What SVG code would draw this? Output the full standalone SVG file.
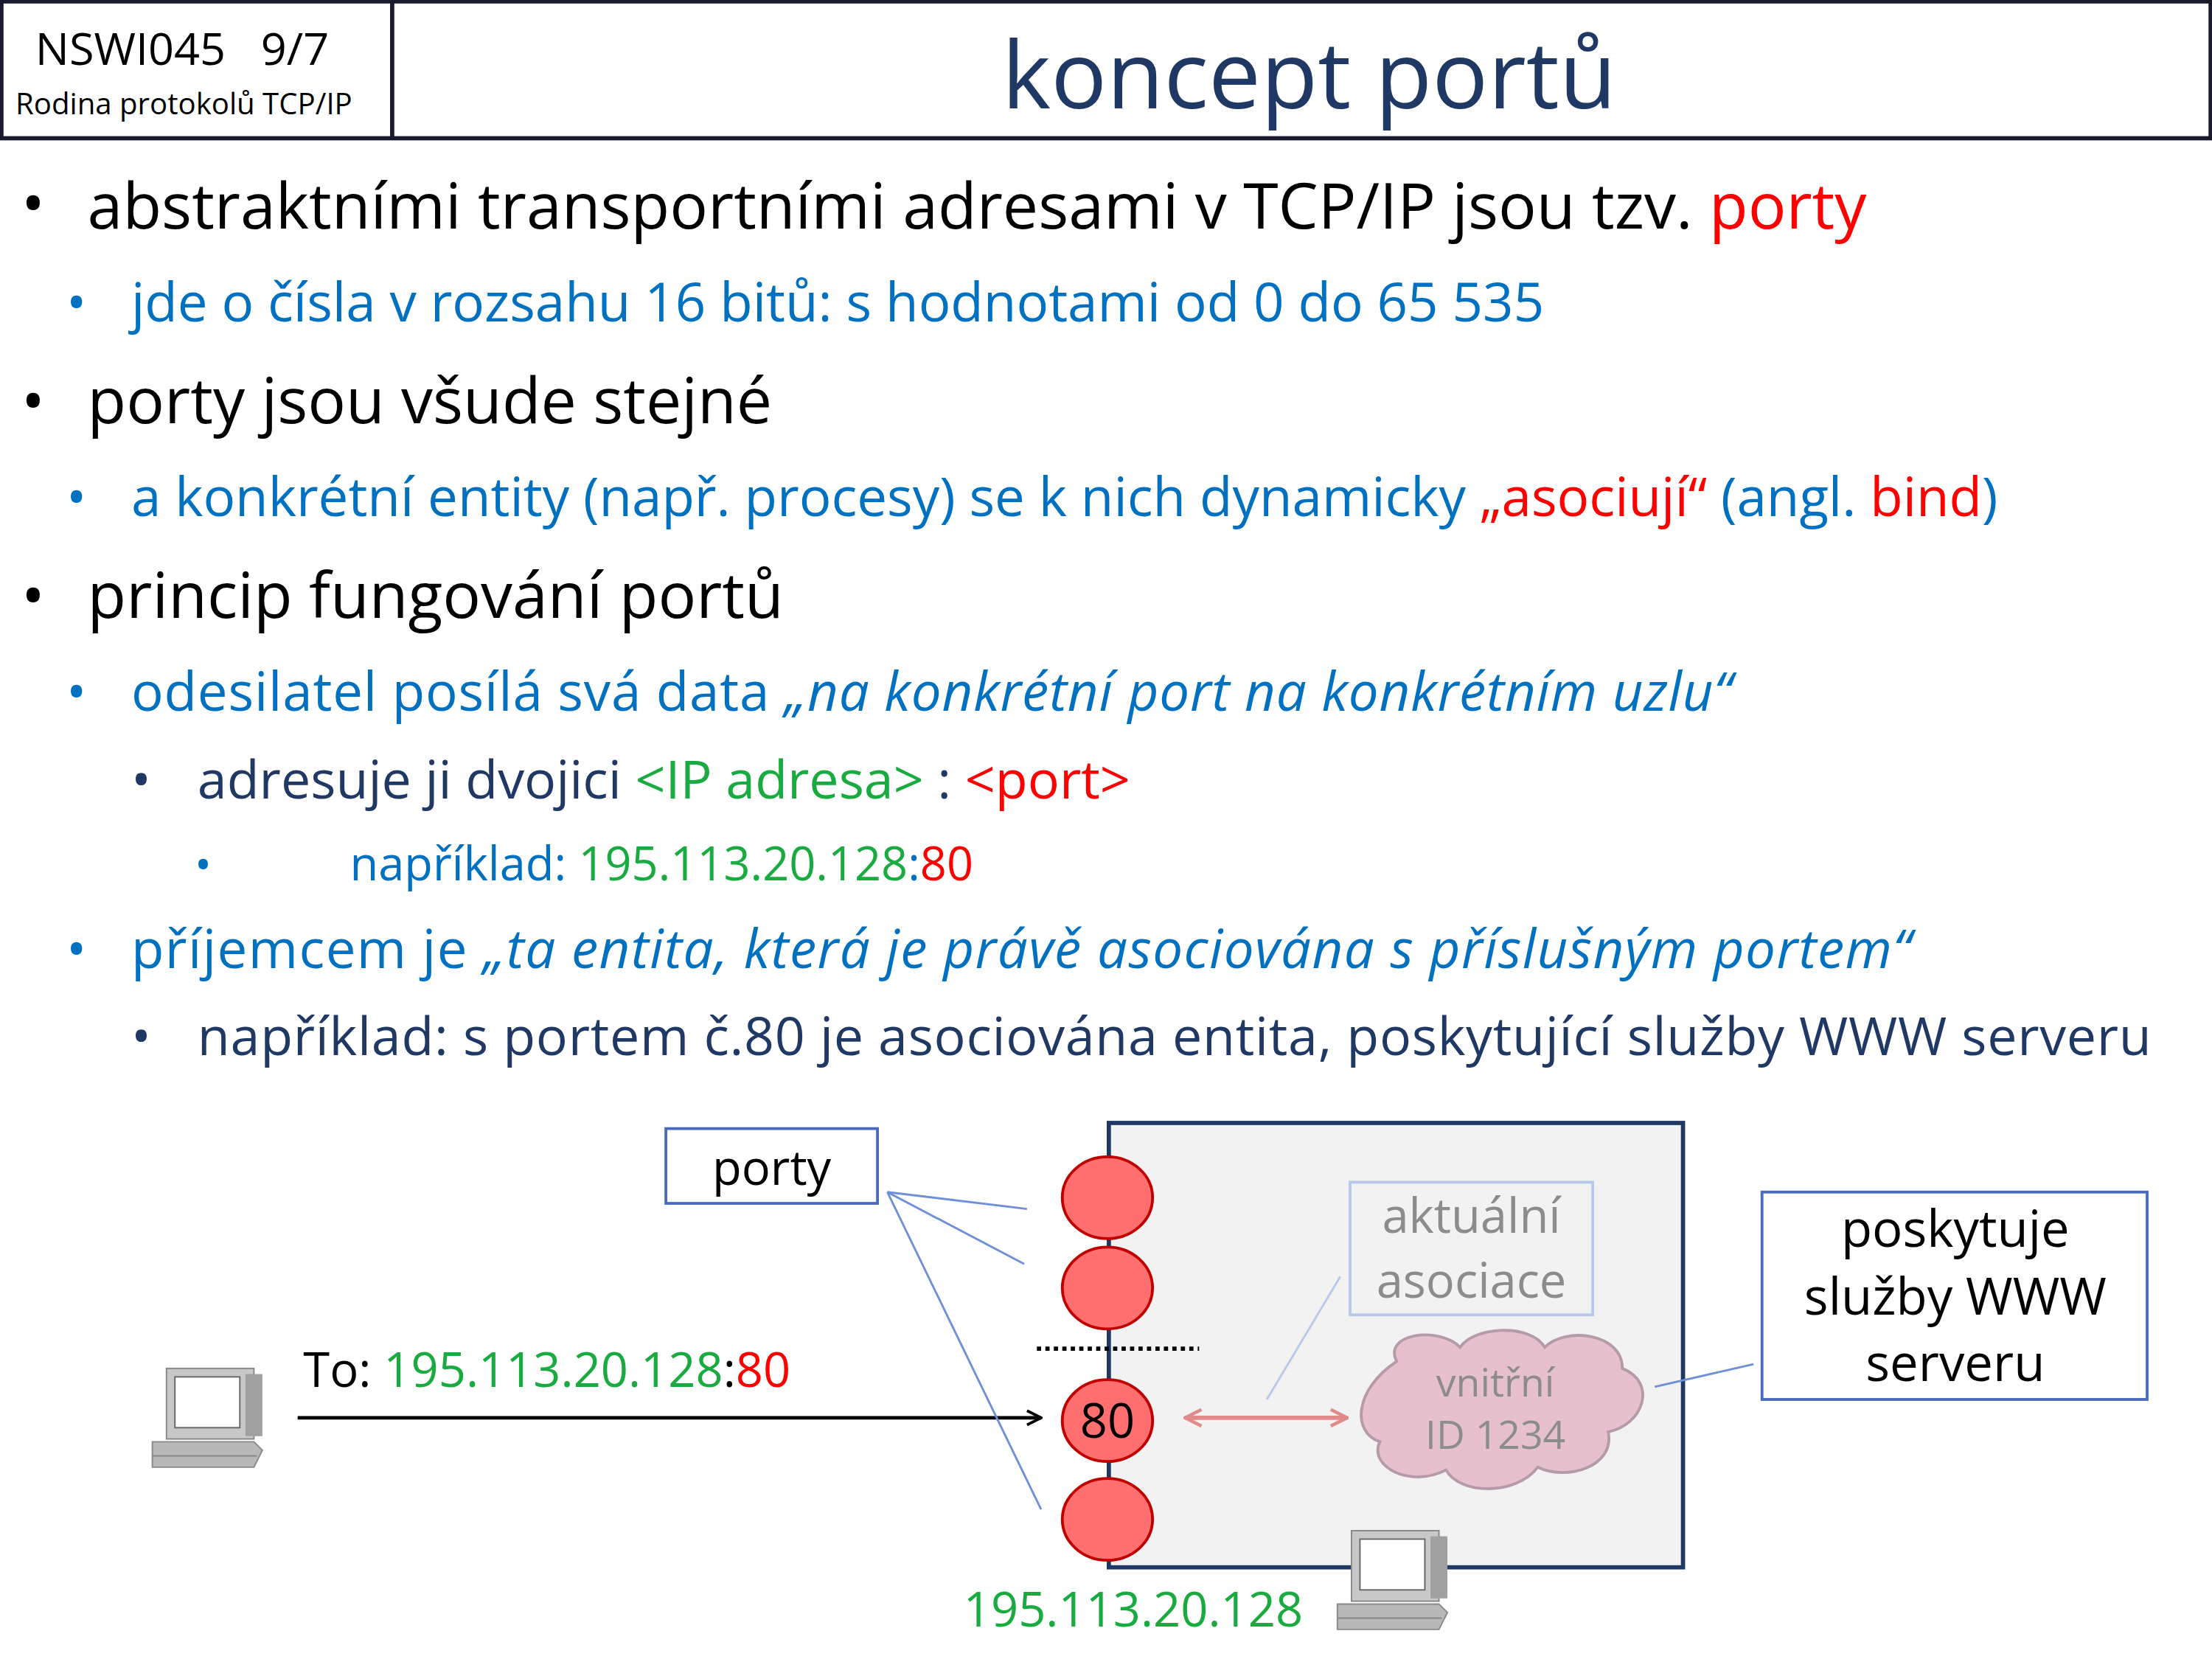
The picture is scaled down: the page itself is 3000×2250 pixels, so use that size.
<svg xmlns="http://www.w3.org/2000/svg" width="3000" height="2250" viewBox="0 0 3000 2250">
<style>
text{font-family:"Open Sans","Noto Sans","Liberation Sans",sans-serif}
.l1{font-size:45px;fill:#000}
.l2{font-size:38px;fill:#0070c0}
.l3{font-size:37.5px;fill:#1f3864}
.r{fill:#ff0000}.g{fill:#1aab40}
.port{fill:#ff6f6f;stroke:#c00000;stroke-width:2}
.thin{stroke:#6f8fd8;stroke-width:1.5;fill:none}
</style>
<defs>
<marker id="ah" viewBox="0 0 12 12" refX="11" refY="6" markerWidth="12" markerHeight="12" markerUnits="userSpaceOnUse" orient="auto"><path d="M1,1 L11,6 L1,11" fill="none" stroke="#000" stroke-width="2"/></marker>
<marker id="pk" viewBox="0 0 12 12" refX="11" refY="6" markerWidth="14" markerHeight="14" markerUnits="userSpaceOnUse" orient="auto-start-reverse"><path d="M1,1 L11,6 L1,11" fill="none" stroke="#e08a8a" stroke-width="2"/></marker>
<g id="pc"><rect x="10" y="0" width="62" height="50" fill="#c8c8c8" stroke="#888"/><rect x="16" y="6" width="46" height="36" fill="#fff" stroke="#666"/><rect x="66" y="4" width="12" height="44" fill="#a0a0a0"/><path d="M0,52 L72,52 L78,58 L72,70 L0,70 Z" fill="#b8b8b8" stroke="#888"/><path d="M0,62 H74" stroke="#888"/></g>
</defs>
<rect width="3000" height="2250" fill="#fff"/>
<g transform="scale(1.9133)">
<g id="header">
<rect x="1" y="1" width="1566" height="97" fill="#fff" stroke="#1a1a2e" stroke-width="3"/>
<line x1="278" y1="1" x2="278" y2="98" stroke="#1a1a2e" stroke-width="3"/>
<text x="25" y="46" font-size="32" xml:space="preserve">NSWI045   9/7</text>
<text x="11" y="81" font-size="21">Rodina protokolů TCP/IP</text>
<text x="928" y="77" font-size="66" fill="#1f3864" text-anchor="middle">koncept portů</text>
</g>
<g id="bullets">
<text x="15" y="160" class="l1">•</text><text x="62" y="162" class="l1">abstraktními transportními adresami v TCP/IP jsou tzv. <tspan class="r">porty</tspan></text>
<text x="47" y="228" class="l2">•</text><text x="93" y="228" class="l2">jde o čísla v rozsahu 16 bitů: s hodnotami od 0 do 65 535</text>
<text x="15" y="300" class="l1">•</text><text x="62" y="300" class="l1">porty jsou všude stejné</text>
<text x="47" y="366" class="l2">•</text><text x="93" y="366" class="l2">a konkrétní entity (např. procesy) se k nich dynamicky <tspan class="r">„asociují“</tspan> (angl. <tspan class="r">bind</tspan>)</text>
<text x="15" y="438" class="l1">•</text><text x="62" y="438" class="l1">princip fungování portů</text>
<text x="47" y="504" class="l2">•</text><text x="93" y="504" class="l2" textLength="1135">odesilatel posílá svá data <tspan font-style="italic">„na konkrétní port na konkrétním uzlu“</tspan></text>
<text x="93" y="566" class="l3">•</text><text x="140" y="566" class="l3">adresuje ji dvojici <tspan class="g">&lt;IP adresa&gt;</tspan> : <tspan class="r">&lt;port&gt;</tspan></text>
<text x="138" y="624" font-size="32" fill="#0070c0">•</text><text x="248" y="624" font-size="33" fill="#0070c0">například: <tspan class="g">195.113.20.128</tspan>:<tspan class="r">80</tspan></text>
<text x="47" y="686" class="l2">•</text><text x="93" y="686" class="l2" textLength="1262">příjemcem je <tspan font-style="italic">„ta entita, která je právě asociována s příslušným portem“</tspan></text>
<text x="93" y="748" class="l3">•</text><text x="140" y="748" class="l3" textLength="1385">například: s portem č.80 je asociována entita, poskytující služby WWW serveru</text>
</g>
<g id="server"><rect x="786" y="796" width="407" height="315" fill="#f2f2f2" stroke="#1f3864" stroke-width="3"/></g>
<g id="connectors">
<line x1="211" y1="1005" x2="738" y2="1005" stroke="#000" stroke-width="2.5" marker-end="url(#ah)"/>
<line x1="629" y1="845" x2="728" y2="857" class="thin"/>
<line x1="629" y1="845" x2="726" y2="896" class="thin"/>
<line x1="629" y1="845" x2="738" y2="1070" class="thin"/>
<line x1="950" y1="905" x2="898" y2="992" stroke="#b7c9ea" stroke-width="1.5"/>
<line x1="1243" y1="967" x2="1173" y2="983" class="thin"/>
<line x1="840" y1="1005" x2="955" y2="1005" stroke="#e08a8a" stroke-width="3" marker-start="url(#pk)" marker-end="url(#pk)"/>
<line x1="735" y1="956" x2="850" y2="956" stroke="#000" stroke-width="3" stroke-dasharray="3,3"/>
</g>
<g id="porty-label"><rect x="472" y="800" width="150" height="53" fill="#fff" stroke="#4a6ac0" stroke-width="2"/><text x="547" y="840" font-size="34" text-anchor="middle">porty</text></g>
<g id="ports">
<ellipse cx="785" cy="849" rx="32" ry="29" class="port"/>
<ellipse cx="785" cy="913" rx="32" ry="29" class="port"/>
<ellipse cx="785" cy="1007" rx="32" ry="29" class="port"/>
<text x="785" y="1019" font-size="34" text-anchor="middle">80</text>
<ellipse cx="785" cy="1077" rx="32" ry="29" class="port"/>
</g>
<g id="asoc"><rect x="957" y="838" width="172" height="94" fill="#f2f2f2" stroke="#b7c9ea" stroke-width="2"/><text x="1043" y="874" font-size="34" fill="#8c8c8c" text-anchor="middle">aktuální</text><text x="1043" y="920" font-size="34" fill="#8c8c8c" text-anchor="middle">asociace</text></g>
<g id="cloud"><path d="M990,965 C980,945 1020,940 1035,955 C1045,940 1085,938 1095,955 C1110,940 1150,945 1150,970 C1175,980 1165,1010 1140,1015 C1145,1040 1110,1050 1090,1040 C1075,1060 1035,1060 1025,1042 C1000,1055 970,1040 978,1022 C958,1015 960,985 990,965 Z" fill="#e6c0cc" stroke="#b59aa9" stroke-width="2"/><text x="1060" y="990" font-size="28" fill="#8c8c8c" text-anchor="middle">vnitřní</text><text x="1060" y="1027" font-size="28" fill="#8c8c8c" text-anchor="middle">ID 1234</text></g>
<g id="www"><rect x="1249" y="845" width="273" height="147" fill="#fff" stroke="#4a6ac0" stroke-width="2"/><text x="1386" y="884" font-size="36" text-anchor="middle">poskytuje</text><text x="1386" y="932" font-size="36" text-anchor="middle">služby WWW</text><text x="1386" y="979" font-size="36" text-anchor="middle">serveru</text></g>
<g id="to-label"><text x="215" y="983" font-size="34">To: <tspan class="g">195.113.20.128</tspan>:<tspan class="r">80</tspan></text></g>
<g id="ip-label"><text x="683" y="1153" font-size="34" class="g">195.113.20.128</text></g>
<g id="pc-left"><use href="#pc" x="108" y="970"/></g>
<g id="pc-right"><use href="#pc" x="948" y="1085"/></g>
</g>
</svg>
